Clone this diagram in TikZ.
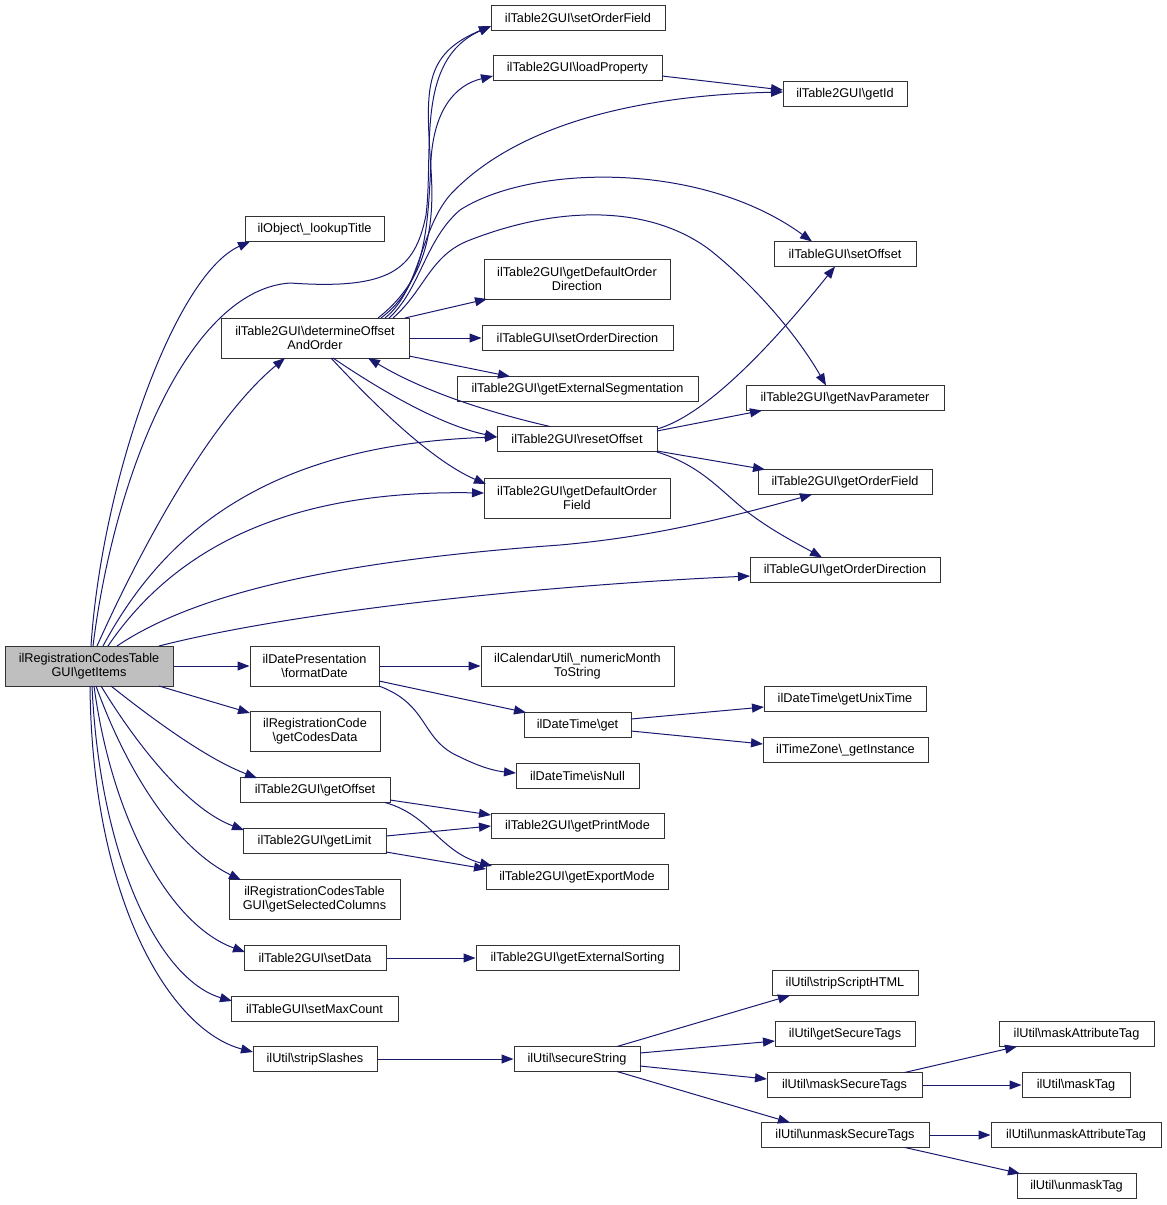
\documentclass[tikz,border=0pt]{standalone}
\usepackage{fontspec}
\setmainfont{Liberation Sans}
\usetikzlibrary{arrows.meta,calc}
\definecolor{edgeblue}{HTML}{191970}
\definecolor{rootgray}{HTML}{BFBFBF}
\definecolor{boxline}{HTML}{333333}
\tikzset{
  fn/.style={draw=boxline, line width=1pt, fill=white, inner sep=0pt, align=center,
    font=\fontsize{12.7}{14}\selectfont, minimum height=25pt},
  fntwo/.style={fn, minimum height=40pt},
  rootfn/.style={fntwo, fill=rootgray},
  call/.style={draw=edgeblue, line width=1pt, -{Triangle[length=12pt,width=9pt]}, fill=none}
}
\newcommand{\bs}{\textbackslash}
\begin{document}
\begin{tikzpicture}[x=1pt,y=-1pt]
\useasboundingbox (0,0) rectangle (1167,1205);
% nodes
\node[rootfn, minimum width=168pt] (G) at (89,666) {ilRegistrationCodesTable\\GUI\bs getItems};
\node[fn, minimum width=139pt] (LT) at (314.5,229) {ilObject\bs\_lookupTitle};
\node[fntwo, minimum width=188pt] (D) at (315,338) {ilTable2GUI\bs determineOffset\\AndOrder};
\node[fn, minimum width=174pt] (SOF) at (578,18) {ilTable2GUI\bs setOrderField};
\node[fn, minimum width=169pt] (LP) at (577.5,68) {ilTable2GUI\bs loadProperty};
\node[fn, minimum width=124pt] (GID) at (845,94) {ilTable2GUI\bs getId};
\node[fn, minimum width=142pt] (SO) at (845,254) {ilTableGUI\bs setOffset};
\node[fntwo, minimum width=186pt] (GDOD) at (577,279) {ilTable2GUI\bs getDefaultOrder\\Direction};
\node[fn, minimum width=191pt] (SOD) at (577.5,338) {ilTableGUI\bs setOrderDirection};
\node[fn, minimum width=241pt] (GES) at (577.5,389) {ilTable2GUI\bs getExternalSegmentation};
\node[fn, minimum width=198pt] (GNP) at (845,398) {ilTable2GUI\bs getNavParameter};
\node[fn, minimum width=160pt] (RO) at (577,439) {ilTable2GUI\bs resetOffset};
\node[fn, minimum width=174pt] (GOF) at (845,482) {ilTable2GUI\bs getOrderField};
\node[fntwo, minimum width=186pt] (GDOF) at (577,498) {ilTable2GUI\bs getDefaultOrder\\Field};
\node[fn, minimum width=190pt] (GOD) at (845,570) {ilTableGUI\bs getOrderDirection};
\node[fntwo, minimum width=129pt] (FD) at (314.5,666) {ilDatePresentation\\\bs formatDate};
\node[fntwo, minimum width=193pt] (NM) at (577.5,666) {ilCalendarUtil\bs\_numericMonth\\ToString};
\node[fn, minimum width=162pt] (GUT) at (845,699) {ilDateTime\bs getUnixTime};
\node[fn, minimum width=107pt] (GET) at (577.5,725) {ilDateTime\bs get};
\node[fn, minimum width=165pt] (GI) at (845.5,750) {ilTimeZone\bs\_getInstance};
\node[fn, minimum width=123pt] (IN) at (577.5,776) {ilDateTime\bs isNull};
\node[fntwo, minimum width=130pt] (GCD) at (315,731) {ilRegistrationCode\\\bs getCodesData};
\node[fn, minimum width=150pt] (GO) at (315,790) {ilTable2GUI\bs getOffset};
\node[fn, minimum width=173pt] (GPM) at (577.5,826) {ilTable2GUI\bs getPrintMode};
\node[fn, minimum width=143pt] (GL) at (314.5,841) {ilTable2GUI\bs getLimit};
\node[fn, minimum width=182pt] (GEM) at (577,877) {ilTable2GUI\bs getExportMode};
\node[fntwo, minimum width=171pt] (GSC) at (314.5,899) {ilRegistrationCodesTable\\GUI\bs getSelectedColumns};
\node[fn, minimum width=142pt] (SD) at (315,958) {ilTable2GUI\bs setData};
\node[fn, minimum width=203pt] (GESo) at (577.5,958) {ilTable2GUI\bs getExternalSorting};
\node[fn, minimum width=167pt] (SMC) at (314.5,1009) {ilTableGUI\bs setMaxCount};
\node[fn, minimum width=124pt] (SS) at (315,1059) {ilUtil\bs stripSlashes};
\node[fn, minimum width=126pt] (SecS) at (577,1059) {ilUtil\bs secureString};
\node[fn, minimum width=146pt] (SSH) at (845,983) {ilUtil\bs stripScriptHTML};
\node[fn, minimum width=140pt] (GST) at (845,1034) {ilUtil\bs getSecureTags};
\node[fn, minimum width=155pt] (MST) at (844.5,1085) {ilUtil\bs maskSecureTags};
\node[fn, minimum width=168pt] (UST) at (845,1135) {ilUtil\bs unmaskSecureTags};
\node[fn, minimum width=155pt] (MAT) at (1076.5,1034) {ilUtil\bs maskAttributeTag};
\node[fn, minimum width=108pt] (MT) at (1076,1085) {ilUtil\bs maskTag};
\node[fn, minimum width=170pt] (UAT) at (1076,1135) {ilUtil\bs unmaskAttributeTag};
\node[fn, minimum width=119pt] (UT) at (1076.5,1186) {ilUtil\bs unmaskTag};
% edges from getItems
\draw[call] ($(G)+(2,-20)$) .. controls (102,480) and (175,275) .. ($(LT)+(-64.5,12.5)$);
\draw[call] ($(G)+(4,-20)$) .. controls (115,470) and (190,290) .. (290,283) .. controls (390,290) and (415,270) .. (426,215) .. controls (434,150) and (415,60) .. ($(SOF)+(-87,8)$);
\draw[call] ($(G)+(8,-20)$) .. controls (140,550) and (210,420) .. ($(D)+(-30,20)$);
\draw[call] ($(G)+(14,-20)$) .. controls (160,540) and (260,445) .. ($(RO)+(-80,-2)$);
\draw[call] ($(G)+(19,-20)$) .. controls (180,540) and (300,490) .. ($(GDOF)+(-93,-5)$);
\draw[call] ($(G)+(28,-20)$) .. controls (200,590) and (350,560) .. (560,545) .. controls (650,537) and (720,520) .. ($(GOF)+(-33,12.5)$);
\draw[call] ($(G)+(70,-20)$) .. controls (300,610) and (550,585) .. ($(GOD)+(-95,6)$);
\draw[call] (G.east) -- (FD.west);
\draw[call] ($(G)+(70,20)$) -- ($(GCD)+(-65,-18)$);
\draw[call] ($(G)+(22,20)$) .. controls (160,725) and (210,760) .. ($(GO)+(-58,-12)$);
\draw[call] ($(G)+(12,20)$) .. controls (140,750) and (190,810) .. ($(GL)+(-70.5,-11)$);
\draw[call] ($(G)+(7,20)$) .. controls (130,780) and (180,850) .. ($(GSC)+(-73.5,-19)$);
\draw[call] ($(G)+(5,20)$) .. controls (112,820) and (170,925) .. ($(SD)+(-70,-6)$);
\draw[call] ($(G)+(3,20)$) .. controls (100,860) and (160,980) .. ($(SMC)+(-82.5,-8)$);
\draw[call] ($(G)+(1,20)$) .. controls (92,900) and (170,1030) .. ($(SS)+(-62,-7)$);
% edges from determineOffsetAndOrder
\draw[call] ($(D)+(63,-20)$) .. controls (420,285) and (436,240) .. (431,170) .. controls (426,90) and (422,55) .. ($(SOF)+(-87,8)$);
\draw[call] ($(D)+(66,-20)$) .. controls (425,285) and (428,230) .. (431,160) .. controls (434,110) and (455,85) .. ($(LP)+(-84.5,8)$);
\draw[call] ($(D)+(70,-20)$) .. controls (420,290) and (420,230) .. (450,195) .. controls (520,120) and (650,95) .. ($(GID)+(-62,-2)$);
\draw[call] ($(D)+(74,-20)$) .. controls (420,290) and (425,240) .. (460,210) .. controls (530,165) and (700,160) .. ($(SO)+(-33,-12.5)$);
\draw[call] ($(D)+(78,-20)$) .. controls (425,290) and (430,255) .. (470,240) .. controls (560,205) and (650,205) .. (710,250) .. controls (760,290) and (800,340) .. ($(GNP)+(-19,-12.5)$);
\draw[call] ($(D)+(90,-20)$) -- ($(GDOD)+(-90,20)$);
\draw[call] (D.east) -- (SOD.west);
\draw[call] ($(D)+(94,18)$) -- ($(GES)+(-67.5,-12.5)$);
\draw[call] ($(D)+(18,20)$) .. controls (380,390) and (440,425) .. ($(RO)+(-80,-2)$);
\draw[call] ($(D)+(16,20)$) .. controls (370,400) and (430,460) .. ($(GDOF)+(-91,-14)$);
% resetOffset
\draw[call] ($(RO)+(-27,-12.5)$) .. controls (500,415) and (430,395) .. ($(D)+(53,20)$);
\draw[call] ($(RO)+(80,-10)$) .. controls (700,417) and (760,360) .. ($(SO)+(-10,12.5)$);
\draw[call] ($(RO)+(80,-8)$) -- ($(GNP)+(-83,12.5)$);
\draw[call] ($(RO)+(80,12)$) -- ($(GOF)+(-80,-12.5)$);
\draw[call] ($(RO)+(80,13)$) .. controls (700,465) and (720,490) .. (745,510) .. controls (770,530) and (800,545) .. ($(GOD)+(-23,-12.5)$);
% loadProperty
\draw[call] ($(LP)+(84.5,8)$) -- ($(GID)+(-62,-4)$);
% formatDate
\draw[call] (FD.east) -- (NM.west);
\draw[call] ($(FD)+(64.5,15)$) -- ($(GET)+(-51.5,-12.5)$);
\draw[call] ($(FD)+(64.5,20)$) .. controls (430,705) and (420,740) .. (460,757) .. controls (480,767) and (495,771) .. ($(IN)+(-61.5,-3)$);
\draw[call] ($(GET)+(53.5,-6)$) -- ($(GUT)+(-81,8)$);
\draw[call] ($(GET)+(53.5,6)$) -- ($(GI)+(-82.5,-6)$);
% getOffset / getLimit
\draw[call] ($(GO)+(75,10)$) -- ($(GPM)+(-86.5,-11)$);
\draw[call] ($(GO)+(70,12.5)$) .. controls (430,815) and (440,852) .. ($(GEM)+(-85,-11)$);
\draw[call] ($(GL)+(71.5,-5)$) -- ($(GPM)+(-86.5,0)$);
\draw[call] ($(GL)+(71.5,11)$) -- ($(GEM)+(-91,-8)$);
% setData
\draw[call] (SD.east) -- (GESo.west);
% strings
\draw[call] (SS.east) -- (SecS.west);
\draw[call] ($(SecS)+(40,-12.5)$) -- ($(SSH)+(-55,12.5)$);
\draw[call] ($(SecS)+(63,-6)$) -- ($(GST)+(-70,7)$);
\draw[call] ($(SecS)+(63,7)$) -- ($(MST)+(-77.5,-6)$);
\draw[call] ($(SecS)+(40,12.5)$) -- ($(UST)+(-55,-12.5)$);
\draw[call] ($(MST)+(60,-12.5)$) -- ($(MAT)+(-59.5,12.5)$);
\draw[call] (MST.east) -- (MT.west);
\draw[call] (UST.east) -- (UAT.west);
\draw[call] ($(UST)+(60,12.5)$) -- ($(UT)+(-56.5,-12.5)$);
\end{tikzpicture}
\end{document}
